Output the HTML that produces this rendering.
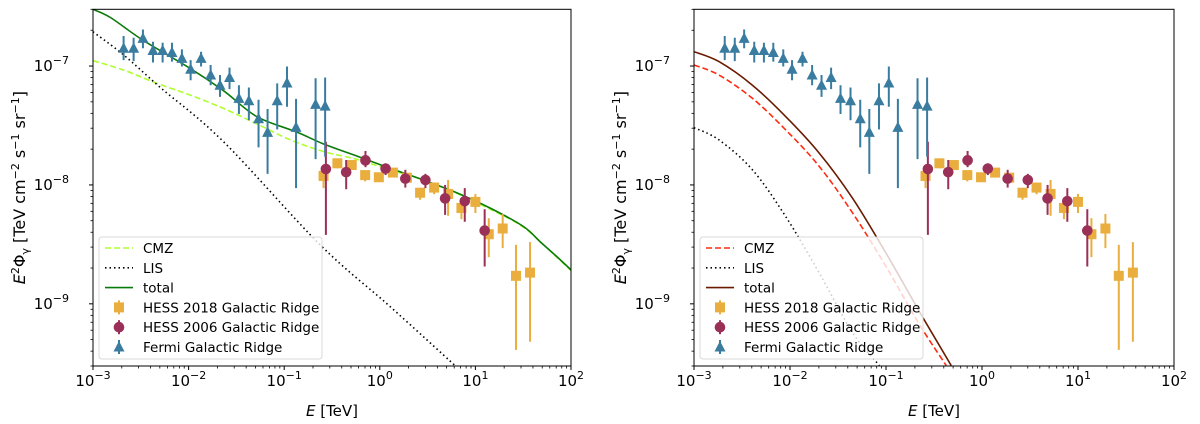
<!DOCTYPE html>
<html><head><meta charset="utf-8"><style>
body{margin:0;background:#fff;}
svg{display:block;font-family:"DejaVu Sans","Liberation Sans",sans-serif;}
</style></head><body>
<svg id="c" width="1200" height="424" xmlns="http://www.w3.org/2000/svg"></svg>
<script>
// ---- data ----
const fermiE=[2.09e-3,2.66e-3,3.33e-3,4.24e-3,5.35e-3,6.70e-3,8.51e-3,1.05e-2,1.35e-2,1.70e-2,2.13e-2,2.68e-2,3.36e-2,4.27e-2,5.39e-2,6.70e-2,8.45e-2,1.07e-1,1.33e-1,2.13e-1,2.68e-1];
const fermiF=[1.41e-7,1.41e-7,1.71e-7,1.35e-7,1.35e-7,1.30e-7,1.16e-7,9.4e-8,1.16e-7,8.4e-8,6.9e-8,8.0e-8,5.35e-8,5.1e-8,3.6e-8,2.77e-8,5.1e-8,7.2e-8,3.05e-8,4.76e-8,4.6e-8];
const fermiHi=[1.79e-7,1.73e-7,2.03e-7,1.60e-7,1.57e-7,1.57e-7,1.38e-7,1.12e-7,1.32e-7,1.02e-7,8.4e-8,9.7e-8,6.9e-8,6.6e-8,5.2e-8,4.35e-8,7.15e-8,9.9e-8,5.3e-8,7.9e-8,8.0e-8];
const fermiLo=[1.12e-7,1.10e-7,1.41e-7,1.07e-7,1.07e-7,1.09e-7,9.9e-8,7.6e-8,9.9e-8,6.9e-8,5.5e-8,6.4e-8,3.95e-8,3.5e-8,2.07e-8,1.24e-8,2.93e-8,4.55e-8,9.4e-9,1.65e-8,1.73e-8];
const h18E=[0.258,0.360,0.509,0.703,0.977,1.37,1.92,2.64,3.70,5.18,7.14,10.0,13.8,19.3,26.6,37.3];
const h18F=[1.19e-8,1.52e-8,1.47e-8,1.21e-8,1.16e-8,1.27e-8,1.15e-8,8.6e-9,9.5e-9,8.4e-9,6.4e-9,7.2e-9,3.85e-9,4.3e-9,1.72e-9,1.83e-9];
const h18Hi=[1.43e-8,1.64e-8,1.57e-8,1.32e-8,1.25e-8,1.37e-8,1.25e-8,9.4e-9,1.05e-8,1.10e-8,7.25e-9,8.4e-9,5.25e-9,5.7e-9,3.13e-9,3.3e-9];
const h18Lo=[9.4e-9,1.38e-8,1.34e-8,1.07e-8,1.07e-8,1.16e-8,1.05e-8,7.5e-9,8.35e-9,5.5e-9,5.15e-9,5.8e-9,2.47e-9,2.94e-9,4.1e-10,4.8e-10];
const h06E=[0.273,0.445,0.708,1.15,1.85,3.0,4.82,7.74,12.5];
const h06F=[1.36e-8,1.28e-8,1.61e-8,1.37e-8,1.13e-8,1.10e-8,7.7e-9,7.3e-9,4.13e-9];
const h06Hi=[2.31e-8,1.62e-8,1.93e-8,1.52e-8,1.34e-8,1.24e-8,1.0e-8,9.4e-9,6.25e-9];
const h06Lo=[3.8e-9,9.2e-9,1.41e-8,1.21e-8,9.5e-9,9.4e-9,5.6e-9,4.9e-9,2.06e-9];
// left model curves
const totLE=[1e-3,1.52e-3,3.33e-3,1.04e-2,2.32e-2,5.18e-2,0.133,0.258,0.575,1.28,2.86,6.38,14.2,31.8,47.4,70.8,100];
const totLF=[3.0e-7,2.56e-7,1.65e-7,9.55e-8,6.2e-8,3.75e-8,2.8e-8,2.21e-8,1.75e-8,1.38e-8,1.10e-8,8.6e-9,6.4e-9,4.47e-9,3.34e-9,2.5e-9,1.93e-9];
const cmzLE=[1e-3,2.09e-3,4.67e-3,1.04e-2,2.32e-2,5.18e-2,0.116,0.258,0.575,1.28,2.86,6.38,14.2,31.8,70.8,100];
const cmzLF=[1.11e-7,9.25e-8,7.15e-8,5.7e-8,4.4e-8,3.26e-8,2.39e-8,1.91e-8,1.64e-8,1.34e-8,1.10e-8,8.5e-9,6.25e-9,4.4e-9,2.47e-9,1.9e-9];
const lisLE=[1e-3,2.09e-3,5.06e-3,2.32e-2,0.238,1.28,6.12];
const lisLF=[1.94e-7,1.24e-7,6.6e-8,2.31e-8,3.13e-9,9.5e-10,3.03e-10];
// right model curves
const totRE=[1e-3,1.82e-3,4.06e-3,9.05e-3,2.02e-2,4.50e-2,0.1,0.223,0.478];
const totRF=[1.32e-7,1.09e-7,6.9e-8,3.75e-8,1.85e-8,7.7e-9,2.67e-9,8.6e-10,3.03e-10];
const cmzRE=[1e-3,1.82e-3,4.06e-3,9.05e-3,2.02e-2,4.50e-2,0.1,0.223,0.424];
const cmzRF=[1.02e-7,8.4e-8,5.35e-8,2.9e-8,1.43e-8,5.8e-9,2.06e-9,6.7e-10,3.03e-10];
const lisRE=[1e-3,1.82e-3,4.06e-3,9.05e-3,2.02e-2,4.50e-2,8.53e-2];
const lisRF=[3.03e-8,2.39e-8,1.34e-8,5.4e-9,1.81e-9,5.7e-10,3.03e-10];
const xTicks=[-3,-2,-1,0,1,2];
const yTicks=[-9,-8,-7];

const NS="http://www.w3.org/2000/svg";
const svg=document.getElementById('c');
function mk(tag,attrs,parent){const e=document.createElementNS(NS,tag);for(const k in attrs)e.setAttribute(k,attrs[k]);(parent||svg).appendChild(e);return e;}
function smooth(pts){
  let d='M'+pts[0][0].toFixed(1)+','+pts[0][1].toFixed(1);
  for(let i=0;i<pts.length-1;i++){
    const p0=pts[i-1]||pts[i],p1=pts[i],p2=pts[i+1],p3=pts[i+2]||p2;
    const c1=[p1[0]+(p2[0]-p0[0])/6,p1[1]+(p2[1]-p0[1])/6];
    const c2=[p2[0]-(p3[0]-p1[0])/6,p2[1]-(p3[1]-p1[1])/6];
    d+='C'+c1.map(v=>v.toFixed(1)).join(',')+' '+c2.map(v=>v.toFixed(1)).join(',')+' '+p2[0].toFixed(1)+','+p2[1].toFixed(1);
  }
  return d;
}

const C={fermi:'#3a7ca0',h18:'#e9ae3e',h06:'#9a2f58'};

function panel(id,L,R,curves){
  const T=9.3,B=366,ymin=Math.log10(3e-10),ymax=Math.log10(3e-7);
  const X=e=>L+(Math.log10(e)+3)/5*(R-L);
  const Y=f=>B-(Math.log10(f)-ymin)/(ymax-ymin)*(B-T);
  const g=mk('g',{});
  
  
  const defs=mk('defs',{},g);
  const cp=mk('clipPath',{id:id+'clip'},defs);
  mk('rect',{x:L,y:T,width:R-L,height:B-T},cp);
  const plot=mk('g',{'clip-path':`url(#${id}clip)`},g);
  curves.forEach(cv=>{
    const d=smooth(cv.E.map((e,i)=>[X(e),Y(cv.F[i])]));
    const p=mk('path',{d,fill:'none',stroke:cv.color,'stroke-width':1.6,'stroke-dasharray':cv.dash||'none'},plot);
    
    
  });
  function series(E,F,Hi,Lo,color,shape,name){
    const sg=mk('g',{},plot);
    
    
    E.forEach((e,i)=>{
      const x=X(e),y=Y(F[i]);
      mk('line',{x1:x,x2:x,y1:Y(Hi[i]),y2:Y(Lo[i]),stroke:color,'stroke-width':2},sg);
      let m;
      if(shape==='s')m=mk('rect',{x:x-5,y:y-5,width:10,height:10,fill:color},sg);
      else if(shape==='o')m=mk('circle',{cx:x,cy:y,r:5.3,fill:color},sg);
      else m=mk('polygon',{points:`${x},${y-6} ${x-5.5},${y+4.5} ${x+5.5},${y+4.5}`,fill:color},sg);
      
      
    });
  }
  series(h18E,h18F,h18Hi,h18Lo,C.h18,'s','hess-2018');
  series(h06E,h06F,h06Hi,h06Lo,C.h06,'o','hess-2006');
  series(fermiE,fermiF,fermiHi,fermiLo,C.fermi,'t','fermi');
  const fr=mk('rect',{x:L,y:T,width:R-L,height:B-T,fill:'none',stroke:'#000','stroke-width':1},g);
  
  
  xTicks.forEach(k=>{
    const x=X(Math.pow(10,k));
    mk('line',{x1:x,x2:x,y1:B,y2:B+4,stroke:'#000'},g);
    const t=mk('text',{x:x,y:B+20,'text-anchor':'middle','font-size':15},g);
    t.textContent='10';
    const s=mk('tspan',{dy:-7,'font-size':11},t);s.textContent=(k<0?'\u2212'+(-k):k);
    
    
    if(k<2)for(let m=2;m<10;m++){const xm=X(m*Math.pow(10,k));mk('line',{x1:xm,x2:xm,y1:B,y2:B+2.5,stroke:'#000','stroke-width':0.8},g);}
  });
  yTicks.forEach(k=>{
    const y=Y(Math.pow(10,k));
    mk('line',{x1:L-4,x2:L,y1:y,y2:y,stroke:'#000'},g);
    const t=mk('text',{x:L-24,y:y+5,'text-anchor':'end','font-size':15},g);
    t.textContent='10';
    const s=mk('tspan',{dy:-7,'font-size':11},t);s.textContent='\u2212'+(-k);
    
    
  });
  for(let k=-10;k<=-7;k++)for(let m=2;m<10;m++){const v=m*Math.pow(10,k);if(v<3e-10||v>3e-7)continue;const y=Y(v);mk('line',{x1:L-2.5,x2:L,y1:y,y2:y,stroke:'#000','stroke-width':0.8},g);}
  const xl=mk('text',{x:(L+R)/2,y:416,'text-anchor':'middle','font-size':15},g);
  xl.innerHTML='<tspan font-style="italic">E</tspan> [TeV]';
  
  
  const yl=mk('text',{x:0,y:0,'text-anchor':'middle','font-size':16,transform:`translate(${L-68},${(T+B)/2}) rotate(-90)`},g);
  yl.innerHTML='<tspan font-style="italic">E</tspan><tspan dy="-6" font-size="11">2</tspan><tspan dy="6">Φ</tspan><tspan dy="4" font-size="11">γ</tspan><tspan dy="-4"> [TeV cm</tspan><tspan dy="-6" font-size="11">−2</tspan><tspan dy="6"> s</tspan><tspan dy="-6" font-size="11">−1</tspan><tspan dy="6"> sr</tspan><tspan dy="-6" font-size="11">−1</tspan><tspan dy="6">]</tspan>';
  
  
  const lx=L+6,lg=mk('g',{},g);
  
  
  mk('rect',{x:lx,y:237,width:223,height:122,rx:3,fill:'rgba(255,255,255,0.8)',stroke:'#d8d8d8'},lg);
  const rows=[['CMZ','line',curves[0].color,curves[0].dash],['LIS','line','#000','1.5,3'],['total','line',curves[2].color,null],
    ['HESS 2018 Galactic Ridge','s',C.h18],['HESS 2006 Galactic Ridge','o',C.h06],['Fermi Galactic Ridge','t',C.fermi]];
  rows.forEach((r,i)=>{
    const y=248+i*19.8,e=mk('g',{},lg);
    
    
    const cx=lx+20;
    if(r[1]==='line')mk('line',{x1:lx+6,x2:lx+34,y1:y,y2:y,stroke:r[2],'stroke-width':1.6,'stroke-dasharray':r[3]||'none'},e);
    else{
      mk('line',{x1:cx,x2:cx,y1:y-7,y2:y+7,stroke:r[2],'stroke-width':2},e);
      if(r[1]==='s')mk('rect',{x:cx-5,y:y-5,width:10,height:10,fill:r[2]},e);
      else if(r[1]==='o')mk('circle',{cx,cy:y,r:5.3,fill:r[2]},e);
      else mk('polygon',{points:`${cx},${y-6} ${cx-5.5},${y+4.5} ${cx+5.5},${y+4.5}`,fill:r[2]},e);
    }
    const t=mk('text',{x:lx+44,y:y+5,'font-size':13.5},e);t.textContent=r[0];
  });
}
panel('left',93,571,[
  {name:'cmz',E:cmzLE,F:cmzLF,color:'#adff2f',dash:'6,3'},
  {name:'lis',E:lisLE,F:lisLF,color:'#000',dash:'1.5,3'},
  {name:'total',E:totLE,F:totLF,color:'#0a7a0a'}]);
panel('right',694,1174,[
  {name:'cmz',E:cmzRE,F:cmzRF,color:'#ff2a10',dash:'6,3'},
  {name:'lis',E:lisRE,F:lisRF,color:'#000',dash:'1.5,3'},
  {name:'total',E:totRE,F:totRF,color:'#6b1a00'}]);
</script>
</body></html>
